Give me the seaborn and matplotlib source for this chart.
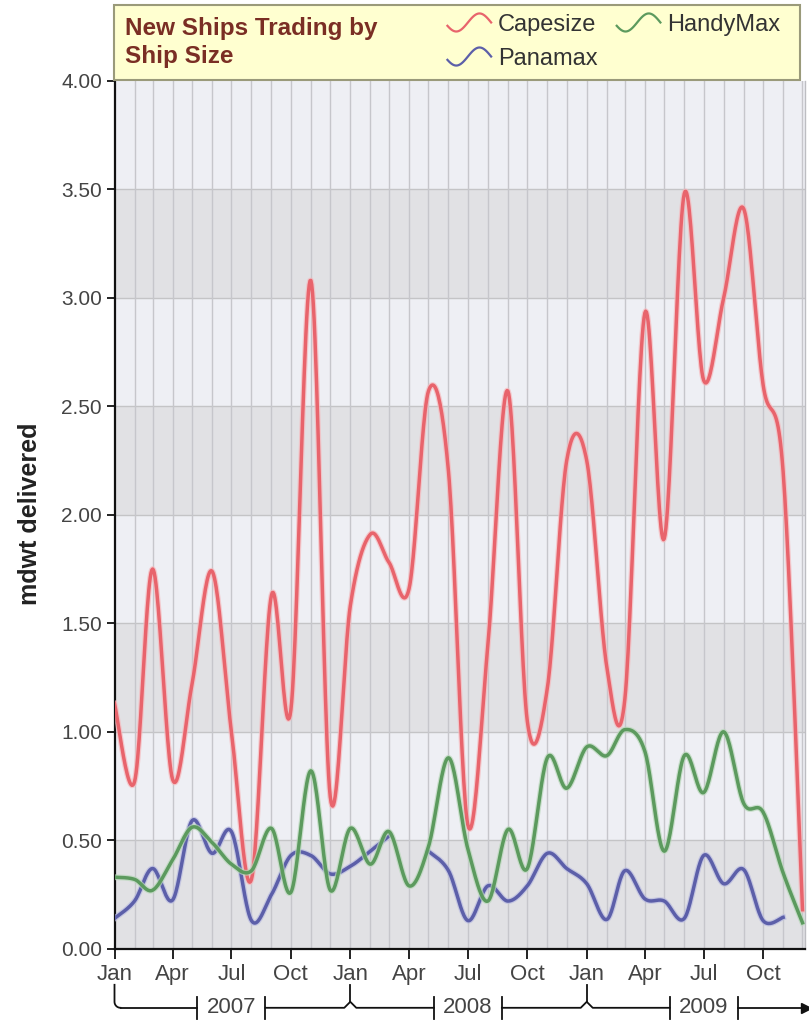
import numpy as np
import pandas as pd
import matplotlib
matplotlib.use("Agg")
import matplotlib.pyplot as plt
import matplotlib.dates as mdates
import matplotlib.patheffects as pe
from matplotlib.lines import Line2D
from matplotlib.patches import Rectangle
from matplotlib.legend_handler import HandlerBase
import seaborn as sns

# ---------------------------------------------------------------- data
months = pd.date_range("2007-01-01", "2009-12-01", freq="MS")
series_names = ["Capesize", "Panamax", "HandyMax"]

capesize = [1.13, 0.77, 1.75, 0.78, 1.22, 1.74, 1.00, 0.32, 1.63, 1.10, 3.08, 0.70,
            1.58, 1.91, 1.78, 1.66, 2.57, 2.20, 0.57, 1.40, 2.57, 1.05, 1.20, 2.25,
            2.25, 1.30, 1.15, 2.93, 1.89, 3.48, 2.62, 3.00, 3.41, 2.60, 2.20, 0.18]
handymax = [0.33, 0.32, 0.27, 0.41, 0.56, 0.49, 0.39, 0.36, 0.555, 0.26, 0.82, 0.27,
            0.555, 0.39, 0.54, 0.29, 0.47, 0.88, 0.46, 0.22, 0.55, 0.37, 0.88, 0.74,
            0.93, 0.89, 1.01, 0.91, 0.45, 0.89, 0.72, 1.00, 0.67, 0.63, 0.35, 0.12]
panamax = [0.14, 0.22, 0.37, 0.225, 0.59, 0.44, 0.54, 0.13, 0.25, 0.43, 0.43, 0.345,
           0.38, 0.45, 0.52, None, 0.45, 0.36, 0.13, 0.29, 0.22, 0.29, 0.44, 0.37,
           0.30, 0.135, 0.36, 0.23, 0.22, 0.14, 0.43, 0.30, 0.365, 0.13, 0.145, None]

quarter_labels = ["Jan", "Apr", "Jul", "Oct"]
year_labels = ["2007", "2008", "2009"]
y_ticks = [0.0, 0.5, 1.0, 1.5, 2.0, 2.5, 3.0, 3.5, 4.0]

colors = {"Capesize": "#e8646c", "Panamax": "#5c5fa9", "HandyMax": "#5c9a5e"}
halo = {"Capesize": "#f6b9bd", "Panamax": "#b9bbe0", "HandyMax": "#b9d8ba"}
title_color = "#7a2e24"
text_font = "Liberation Sans"

# ---------------------------------------------------------------- spline helper
def cardinal_spline(xs, ys, tension=0.5, steps=24):
    """Cardinal (GDI-style) spline through the points, as a parametric curve."""
    pts = np.column_stack([xs, ys]).astype(float)
    n = len(pts)
    if n < 2:
        return pts[:, 0], pts[:, 1]
    t = np.linspace(0, 1, steps, endpoint=False)[:, None]
    out = []
    for i in range(n - 1):
        p0 = pts[max(i - 1, 0)]
        p1 = pts[i]
        p2 = pts[i + 1]
        p3 = pts[min(i + 2, n - 1)]
        c1 = p1 + tension / 3.0 * (p2 - p0)
        c2 = p2 - tension / 3.0 * (p3 - p1)
        seg = ((1 - t) ** 3) * p1 + 3 * ((1 - t) ** 2) * t * c1 \
            + 3 * (1 - t) * t ** 2 * c2 + t ** 3 * p2
        out.append(seg)
    out.append(pts[-1][None, :])
    curve = np.vstack(out)
    return curve[:, 0], curve[:, 1]


xnum = mdates.date2num(months.to_pydatetime())
frames = []
for name, vals in [("Capesize", capesize), ("Panamax", panamax), ("HandyMax", handymax)]:
    vals = np.array([np.nan if v is None else v for v in vals], dtype=float)
    ok = ~np.isnan(vals)
    # split into runs of consecutive reported months
    seg_id = np.cumsum(~ok)
    for sid in np.unique(seg_id[ok]):
        mask = ok & (seg_id == sid)
        cx, cy = cardinal_spline(xnum[mask], vals[mask])
        frames.append(pd.DataFrame({"x": cx, "y": cy, "series": name,
                                    "seg": f"{name}-{sid}"}))
curves = pd.concat(frames, ignore_index=True)

# ---------------------------------------------------------------- figure
W, H = 809, 1022
fig = plt.figure(figsize=(W / 100, H / 100), dpi=100)
fig.patch.set_facecolor("white")

L_px, R_px, T_px, B_px = 114.5, 805.0, 80.8, 948.8
ax = fig.add_axes([L_px / W, 1 - B_px / H, (R_px - L_px) / W, (B_px - T_px) / H])

x0 = mdates.date2num(pd.Timestamp("2007-01-01"))
px_per_day = 0.646
x1 = x0 + (R_px - L_px) / px_per_day
ax.set_xlim(x0, x1)
ax.set_ylim(0, 4)

# alternating horizontal bands and grid
ax.set_facecolor("#eeeff4")
for lo in [0.0, 1.0, 2.0, 3.0]:
    ax.axhspan(lo, lo + 0.5, color="#e1e1e4", zorder=0, lw=0)
for yv in y_ticks[1:-1]:
    ax.axhline(yv, color="#c4c4c6", lw=1.0, zorder=0.5)
for m in pd.date_range("2007-02-01", "2009-12-01", freq="MS"):
    ax.axvline(mdates.date2num(m), color="#c6c6cb", lw=1.0, zorder=0.5)

sns.lineplot(data=curves, x="x", y="y", hue="series", units="seg",
             estimator=None, sort=False, palette=colors, lw=2.5,
             legend=False, ax=ax, zorder=3)
for ln in ax.get_lines():
    col = matplotlib.colors.to_hex(ln.get_color())
    soft = next((halo[k] for k, v in colors.items() if v == col), None)
    if soft is not None:
        ln.set_path_effects([pe.Stroke(linewidth=4.2, foreground=soft, alpha=0.7),
                             pe.Normal()])

# axes styling
ax.spines["top"].set_visible(False)
ax.spines["right"].set_color("#bdbdc2")
ax.spines["right"].set_linewidth(1.0)
for side in ["left", "bottom"]:
    ax.spines[side].set_color("#111111")
    ax.spines[side].set_linewidth(1.6)
ax.set_xlabel("")
ax.set_ylabel("")

ax.set_yticks(y_ticks)
ax.set_yticklabels([f"{v:.2f}" for v in y_ticks], fontsize=15, color="#444444",
                   family=text_font)
ax.tick_params(axis="y", length=6, width=1.3, color="#111111", pad=3)

qdates = pd.date_range("2007-01-01", "2009-12-01", freq="QS")
ax.set_xticks(mdates.date2num(qdates.to_pydatetime()))
ax.set_xticklabels([quarter_labels[(d.month - 1) // 3] for d in qdates], fontsize=16,
                   color="#444444", family=text_font)
ax.tick_params(axis="x", length=7, width=1.3, color="#111111", pad=4)

fig.text(30 / W, 1 - 514 / H, "mdwt delivered", rotation=90, ha="center", va="center",
         fontsize=18, fontweight="bold", color="#222222", family=text_font)

# ---------------------------------------------------------------- year brackets
ax_w = R_px - L_px
ax_h = B_px - T_px


def dx_ax(date):
    return (mdates.date2num(pd.Timestamp(date)) - x0) / (x1 - x0)


def py(px_below):
    return -px_below / ax_h


def pxw(px):
    return px / ax_w


line_kw = dict(transform=ax.transAxes, clip_on=False, color="#111111", lw=1.3)
y_line = 59
y_top = 36

# rounded corner below the first January
xj = dx_ax("2007-01-01")
r = 6
theta = np.linspace(np.pi, 1.5 * np.pi, 10)
cx_ = xj + pxw(r)
cy_ = y_line - r
corner_x = [xj, xj] + list(cx_ + pxw(r * np.cos(theta)))
corner_y = [py(y_top), py(cy_)] + list(py(cy_ - r * np.sin(theta)))
ax.add_line(Line2D(corner_x, corner_y, **line_kw))

bar_half = 11
gap = 34  # half width of the opening around each year label
prev_end = xj + pxw(r)
for i, yl in enumerate(year_labels):
    xc = dx_ax(f"{yl}-07-01")
    left = xc - pxw(gap)
    right = xc + pxw(gap)
    if i == 0:
        ax.add_line(Line2D([prev_end, left], [py(y_line)] * 2, **line_kw))
    else:
        xjan = dx_ax(f"{yl}-01-01")
        ax.add_line(Line2D([prev_end, xjan - pxw(6), xjan, xjan + pxw(6), left],
                           [py(y_line), py(y_line), py(y_line - 6), py(y_line), py(y_line)],
                           **line_kw))
        ax.add_line(Line2D([xjan, xjan], [py(y_top), py(y_line - 6)], **line_kw))
    for xb in (left, right):
        ax.add_line(Line2D([xb, xb], [py(y_line - bar_half), py(y_line + bar_half)],
                           **line_kw))
    ax.text(xc, py(y_line), yl, transform=ax.transAxes, ha="center", va="center",
            fontsize=16, color="#444444", family=text_font, clip_on=False)
    prev_end = right
x_end = 1.0 + pxw(1)
ax.add_line(Line2D([prev_end, x_end], [py(y_line)] * 2, **line_kw))
ax.plot([x_end], [py(y_line)], marker=">", ms=7, color="#111111",
        transform=ax.transAxes, clip_on=False)

# ---------------------------------------------------------------- title / legend box
box = Rectangle((114 / W, 1 - 80 / H), (800 - 114) / W, (80 - 5) / H,
                transform=fig.transFigure, facecolor="#ffffd0", edgecolor="#9a9a7a",
                lw=1.5, zorder=5)
fig.patches.append(box)
fig.text(125 / W, 1 - 28 / H, "New Ships Trading by", ha="left", va="center",
         fontsize=17.5, fontweight="bold", color=title_color, family=text_font, zorder=6)
fig.text(125 / W, 1 - 56 / H, "Ship Size", ha="left", va="center",
         fontsize=17.5, fontweight="bold", color=title_color, family=text_font, zorder=6)


class SquiggleHandler(HandlerBase):
    def create_artists(self, legend, orig_handle, xdescent, ydescent, width, height,
                       fontsize, trans):
        t = np.linspace(0.06, 1.0, 40)
        xs = -xdescent + width * (t - 0.06) / 0.94
        ys = -ydescent + height * (0.5 - 0.5 * np.sin(2 * np.pi * t))
        ln = Line2D(xs, ys, color=orig_handle.get_color(), lw=1.6, transform=trans)
        return [ln]


handles = [Line2D([], [], color=colors[n]) for n in series_names]
leg = fig.legend(handles, series_names, loc="upper left",
                 bbox_to_anchor=(438 / W, 1 - 4 / H), ncol=2, frameon=False,
                 handler_map={Line2D: SquiggleHandler()},
                 prop={"family": text_font, "size": 17}, labelcolor="#333333",
                 handlelength=1.85, handleheight=0.8, handletextpad=0.3,
                 columnspacing=0.8, labelspacing=0.5, borderaxespad=0)
leg.set_zorder(7)

fig.savefig("out.png", dpi=100)
